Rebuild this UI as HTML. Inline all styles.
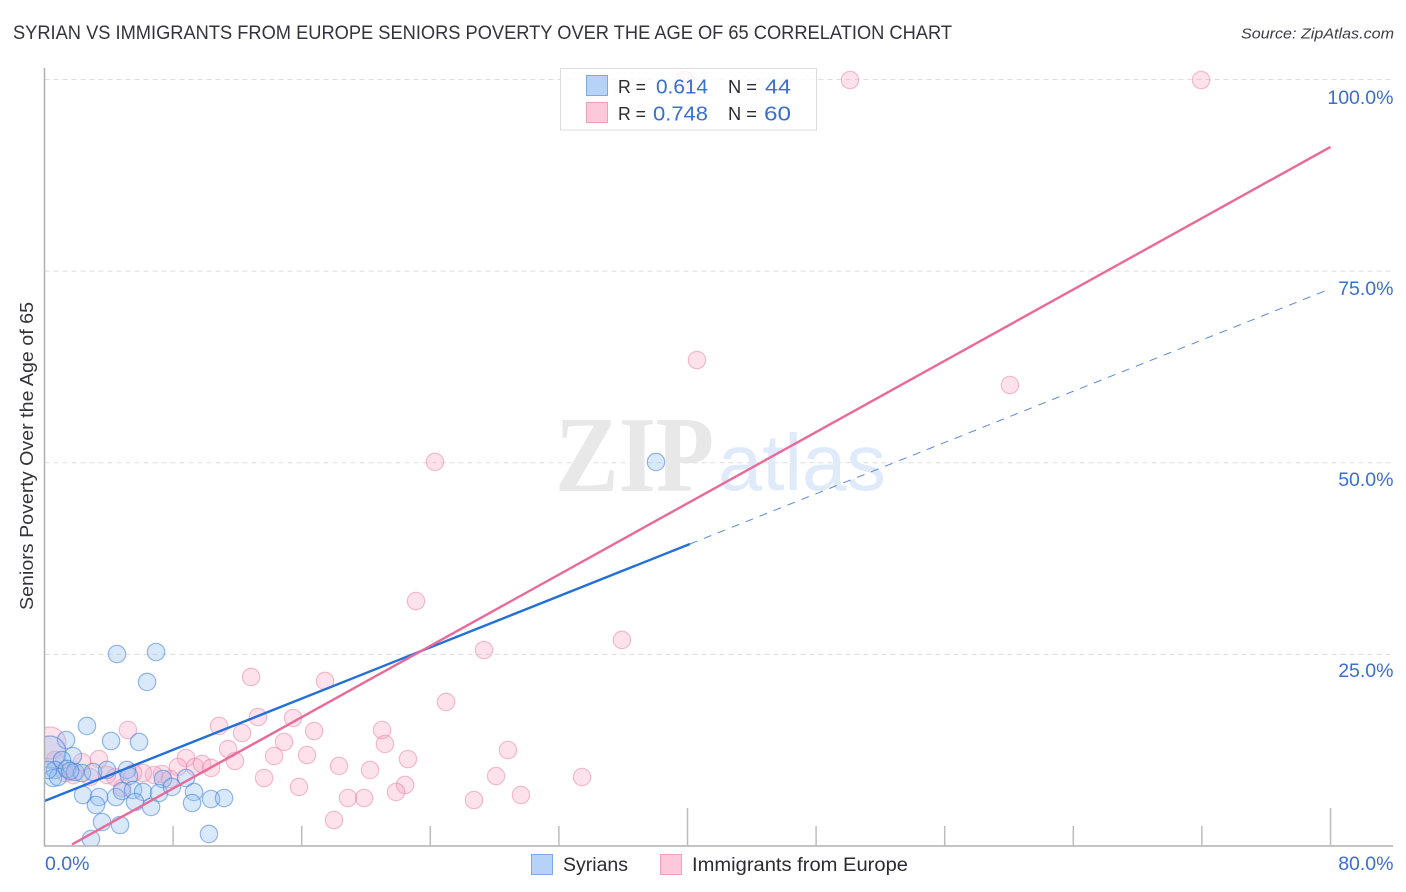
<!DOCTYPE html>
<html lang="en">
<head>
<meta charset="utf-8">
<title>Syrian vs Immigrants from Europe Seniors Poverty Correlation Chart</title>
<style>
html,body{margin:0;padding:0;background:#fff;width:1406px;height:892px;overflow:hidden}
svg{display:block}
text{font-family:"Liberation Sans",sans-serif}
</style>
</head>
<body>
<svg id="chart" xmlns="http://www.w3.org/2000/svg" width="1406" height="892" viewBox="0 0 1406 892">
  <defs><clipPath id="plot-clip"><rect x="45" y="60" width="1348" height="786"/></clipPath></defs>
  <text x="13" y="39" font-size="19" fill="#33333b" textLength="939" lengthAdjust="spacingAndGlyphs">SYRIAN VS IMMIGRANTS FROM EUROPE SENIORS POVERTY OVER THE AGE OF 65 CORRELATION CHART</text>
  <text x="1394" y="38.5" font-size="15" font-style="italic" fill="#3c3c44" text-anchor="end" textLength="153" lengthAdjust="spacingAndGlyphs">Source: ZipAtlas.com</text>
  <g id="grid"></g>
  <g>
    <text x="555" y="491" style="font-family:'Liberation Serif',serif" font-weight="bold" font-size="108" fill="#e8e8e8" textLength="159" lengthAdjust="spacingAndGlyphs">ZIP</text>
    <text x="718" y="490" font-size="80" fill="#dfeafa" textLength="168" lengthAdjust="spacingAndGlyphs">atlas</text>
  </g>
  <g id="marks-pink" clip-path="url(#plot-clip)"></g>
  <g id="marks-blue" clip-path="url(#plot-clip)"></g>
  <g id="trends"></g>
  <g id="axes"></g>
  <text transform="translate(33,456) rotate(-90)" font-size="18.5" fill="#33333b" text-anchor="middle" textLength="308" lengthAdjust="spacingAndGlyphs">Seniors Poverty Over the Age of 65</text>
  <g>
    <rect x="560.5" y="68.5" width="256" height="61.5" fill="#fff" fill-opacity="0.8" stroke="#dcdcdc" stroke-width="1"/>
    <rect x="586.5" y="75.5" width="21" height="20" fill="#b6d3f7" stroke="#7fa9e2" stroke-width="1"/>
    <text x="618" y="93" font-size="18" fill="#2b2b33" textLength="28" lengthAdjust="spacingAndGlyphs">R =</text>
    <text x="656" y="93.5" font-size="20.5" fill="#3a6fd0" textLength="52" lengthAdjust="spacingAndGlyphs">0.614</text>
    <text x="728" y="93" font-size="18" fill="#2b2b33" textLength="29" lengthAdjust="spacingAndGlyphs">N =</text>
    <text x="765" y="93.5" font-size="20.5" fill="#3a6fd0" textLength="26" lengthAdjust="spacingAndGlyphs">44</text>
    <rect x="586.5" y="102.5" width="21" height="20" fill="#fcc8da" stroke="#f0a0bc" stroke-width="1"/>
    <text x="618" y="120" font-size="18" fill="#2b2b33" textLength="28" lengthAdjust="spacingAndGlyphs">R =</text>
    <text x="653" y="120.5" font-size="20.5" fill="#3a6fd0" textLength="55" lengthAdjust="spacingAndGlyphs">0.748</text>
    <text x="728" y="120" font-size="18" fill="#2b2b33" textLength="29" lengthAdjust="spacingAndGlyphs">N =</text>
    <text x="764" y="120.5" font-size="20.5" fill="#3a6fd0" textLength="27" lengthAdjust="spacingAndGlyphs">60</text>
  </g>
  <g>
    <rect x="531.5" y="854.5" width="21" height="20" fill="#b6d3f7" stroke="#7fa9e2" stroke-width="1"/>
    <text x="563" y="871" font-size="19" fill="#2b2b33" textLength="65" lengthAdjust="spacingAndGlyphs">Syrians</text>
    <rect x="660.5" y="854.5" width="21" height="20" fill="#fcc8da" stroke="#f0a0bc" stroke-width="1"/>
    <text x="692" y="871" font-size="19" fill="#2b2b33" textLength="216" lengthAdjust="spacingAndGlyphs">Immigrants from Europe</text>
  </g>
</svg>
<script>
const yGridValues = [100, 75, 50, 25];
const yTickLabels = ["100.0%", "75.0%", "50.0%", "25.0%"];
const xTickValues = [8, 16, 24, 32, 40, 48, 56, 64, 72, 80];
const xMajorTicks = [40, 80];
const xEndLabels = ["0.0%", "80.0%"];

const syrianX = [38.04,4.51,6.94,6.38,2.64,1.34,4.14,5.88,0.34,1.77,1.09,0.65,0.53,0.84,1.40,1.90,2.33,3.02,3.89,5.13,5.26,7.37,8.80,2.40,3.39,3.20,4.45,4.82,5.51,6.13,5.63,6.63,7.12,7.93,9.30,9.18,10.36,11.17,3.58,4.70,2.89,10.23,0.22,1.59];
const syrianY = [50.1,25.05,25.31,21.40,15.66,13.83,13.70,13.57,12.26,11.74,11.22,9.92,8.87,9.00,10.05,9.65,9.52,9.65,9.92,9.92,9.13,8.74,8.87,6.65,6.39,5.35,6.39,7.18,7.31,7.05,5.74,5.09,6.91,7.70,7.05,5.61,6.13,6.26,3.13,2.74,0.91,1.57,9.92,9.78];
const immigrantX = [50.11,71.95,39.84,40.59,60.06,24.29,23.11,35.92,27.34,24.98,21.0,21.18,22.61,28.83,20.25,28.09,33.44,22.43,21.87,19.88,26.72,29.64,5.19,10.86,13.28,15.46,12.85,17.45,12.29,16.77,11.42,14.9,11.85,14.28,16.33,13.66,15.83,18.32,18.88,18.01,8.8,8.3,9.36,9.8,10.36,2.33,3.39,0.65,7.81,7.31,6.81,6.13,5.51,4.82,4.39,3.89,2.83,1.77,1.28,0.34];
const immigrantY = [99.93,99.93,99.93,63.4,60.14,50.1,31.96,26.88,25.57,18.79,15.13,13.31,11.35,12.52,9.92,9.13,9.0,7.96,7.05,6.26,6.0,6.65,15.13,15.66,16.83,16.7,22.05,21.53,14.74,15.0,12.65,13.57,11.09,11.74,11.87,8.87,7.7,10.44,6.26,3.39,11.48,10.31,10.31,10.7,10.18,10.96,11.35,11.22,8.74,9.39,9.26,9.52,9.52,7.57,9.0,9.26,9.0,9.26,9.52,13.44];
const syrianLargeIndex = [8];
const immigrantLargeIndex = [59];

const syrianTrendX = [0, 40.15];
const syrianTrendY = [5.87, 39.4];
const syrianProjectionX = [40.15, 80];
const syrianProjectionY = [39.4, 72.7];
const immigrantTrendX = [1.71, 80];
const immigrantTrendY = [0.2, 91.2];

const NS = "http://www.w3.org/2000/svg";
function xScale(v) { return 44.5 + v * 16.075; }
function yScale(v) { return 846 - v * 7.665; }
function yLabelScale(v) { return 104 + (100 - v) * 7.64; }
function make(tag, attrs, parent) {
  const el = document.createElementNS(NS, tag);
  for (const k in attrs) el.setAttribute(k, attrs[k]);
  parent.appendChild(el);
  return el;
}

const grid = document.getElementById("grid");
yGridValues.forEach(function (v, i) {
  const line = make("line", {x1: 44.5, x2: 1393, y1: yScale(v), y2: yScale(v), stroke: "#dddddd", "stroke-width": 1, "stroke-dasharray": "5 4"}, grid);
  
  
  const label = make("text", {x: 1393.5, y: yLabelScale(v), "font-size": 19.5, fill: "#3a6fd0", "text-anchor": "end"}, grid);
  label.textContent = yTickLabels[i];
  
  
});

const axes = document.getElementById("axes");
const yAxis = make("line", {x1: 44.5, x2: 44.5, y1: 68, y2: 846, stroke: "#b0b0b0", "stroke-width": 1.5}, axes);


const xAxis = make("line", {x1: 44, x2: 1393, y1: 846, y2: 846, stroke: "#b0b0b0", "stroke-width": 1.5}, axes);


xTickValues.forEach(function (v) {
  const top = xMajorTicks.indexOf(v) >= 0 ? 808 : 826;
  const tick = make("line", {x1: xScale(v), x2: xScale(v), y1: top, y2: 846, stroke: "#bcbcbc", "stroke-width": 1.5}, axes);
  
  
});
const xLabelLeft = make("text", {x: 45, y: 870, "font-size": 19.5, fill: "#3a6fd0"}, axes);
xLabelLeft.textContent = xEndLabels[0];


const xLabelRight = make("text", {x: 1393.5, y: 870, "font-size": 19.5, fill: "#3a6fd0", "text-anchor": "end"}, axes);
xLabelRight.textContent = xEndLabels[1];



const pinkGroup = document.getElementById("marks-pink");
immigrantX.forEach(function (v, i) {
  const big = immigrantLargeIndex.indexOf(i) >= 0;
  const c = make("circle", {cx: xScale(v), cy: yScale(immigrantY[i]), r: big ? 16 : 8.7, fill: "#f8a8c4", "fill-opacity": 0.33, stroke: "#e87fa6", "stroke-opacity": 0.5, "stroke-width": 1.2}, pinkGroup);
  
  
});
const blueGroup = document.getElementById("marks-blue");
syrianX.forEach(function (v, i) {
  const big = syrianLargeIndex.indexOf(i) >= 0;
  const c = make("circle", {cx: xScale(v), cy: yScale(syrianY[i]), r: big ? 16 : 8.7, fill: "#8fbcf0", "fill-opacity": 0.33, stroke: "#3f7fd8", "stroke-opacity": 0.55, "stroke-width": 1.2}, blueGroup);
  
  
});

const trends = document.getElementById("trends");
const blueSolid = make("line", {x1: xScale(syrianTrendX[0]), y1: yScale(syrianTrendY[0]), x2: xScale(syrianTrendX[1]), y2: yScale(syrianTrendY[1]), stroke: "#2270d8", "stroke-width": 2.4}, trends);


const blueDash = make("line", {x1: xScale(syrianProjectionX[0]), y1: yScale(syrianProjectionY[0]), x2: xScale(syrianProjectionX[1]), y2: yScale(syrianProjectionY[1]), stroke: "#5a8ad6", "stroke-width": 1, "stroke-dasharray": "8 7"}, trends);


const pinkSolid = make("line", {x1: xScale(immigrantTrendX[0]), y1: yScale(immigrantTrendY[0]), x2: xScale(immigrantTrendX[1]), y2: yScale(immigrantTrendY[1]), stroke: "#e96a98", "stroke-width": 2.4}, trends);


</script>
</body>
</html>
